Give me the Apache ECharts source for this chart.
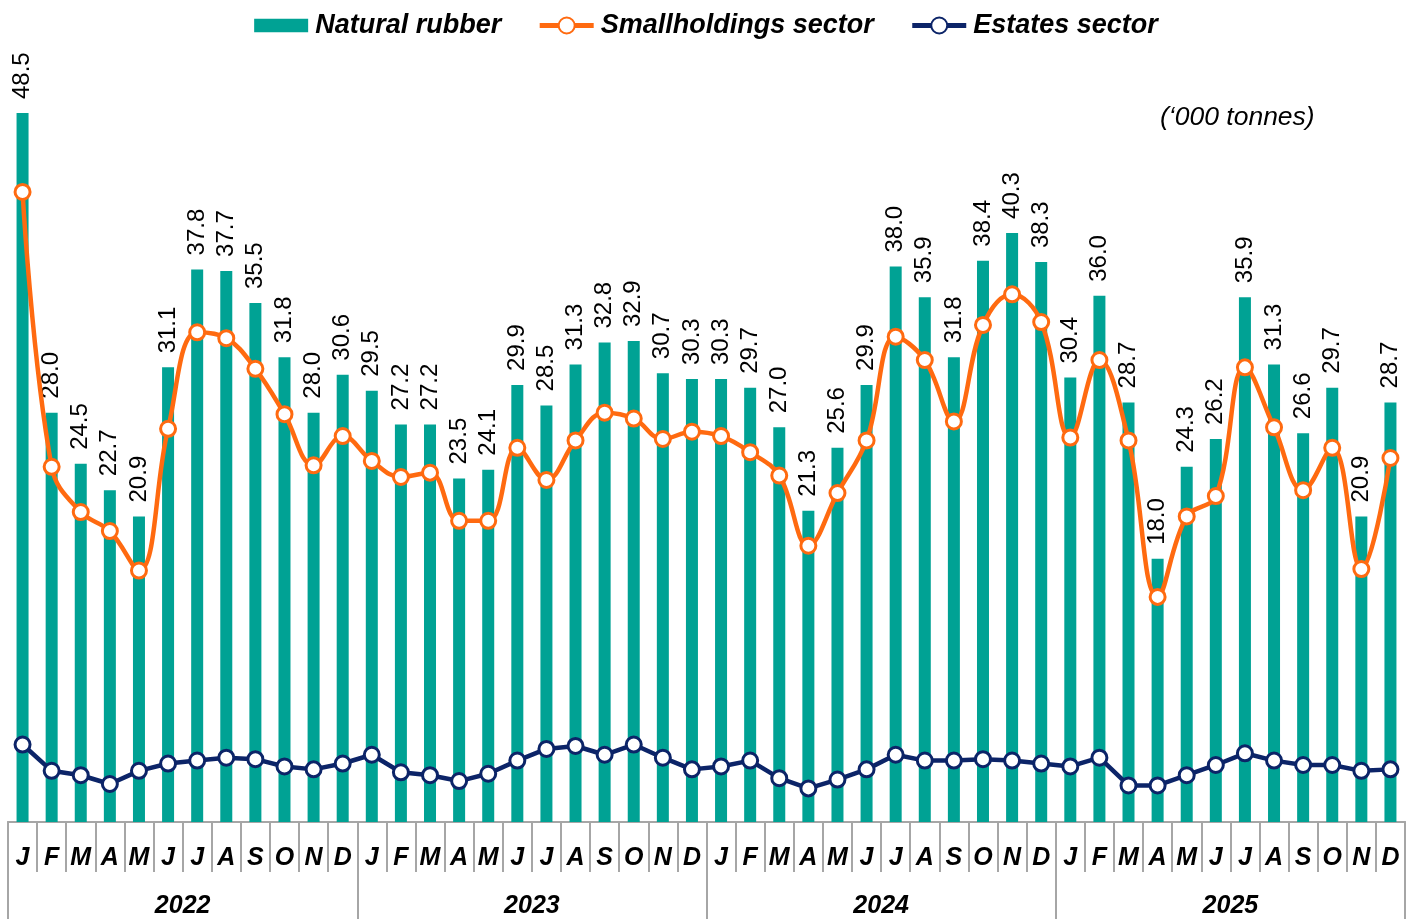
<!DOCTYPE html>
<html>
<head>
<meta charset="utf-8">
<script src="https://cdn.jsdelivr.net/npm/echarts@6/dist/echarts.min.js"></script>
<style>
html,body{margin:0;padding:0;background:#fff;}
#chart{width:1412px;height:919px;}
</style>
</head>
<body>
<div id="chart"></div>
<script>
const months = ['J','F','M','A','M','J','J','A','S','O','N','D',
                'J','F','M','A','M','J','J','A','S','O','N','D',
                'J','F','M','A','M','J','J','A','S','O','N','D',
                'J','F','M','A','M','J','J','A','S','O','N','D'];
const years = ['2022','2023','2024','2025'];
const naturalRubber = [48.5,28.0,24.5,22.7,20.9,31.1,37.8,37.7,35.5,31.8,28.0,30.6,
                       29.5,27.2,27.2,23.5,24.1,29.9,28.5,31.3,32.8,32.9,30.7,30.3,
                       30.3,29.7,27.0,21.3,25.6,29.9,38.0,35.9,31.8,38.4,40.3,38.3,
                       30.4,36.0,28.7,18.0,24.3,26.2,35.9,31.3,26.6,29.7,20.9,28.7];
const smallholdings = [43.1,24.3,21.2,19.9,17.2,26.9,33.5,33.1,31.0,27.9,24.4,26.4,
                       24.7,23.6,23.9,20.6,20.6,25.6,23.4,26.1,28.0,27.6,26.2,26.7,
                       26.4,25.3,23.7,18.9,22.5,26.1,33.2,31.6,27.4,34.0,36.1,34.2,
                       26.3,31.6,26.1,15.4,20.9,22.3,31.1,27.0,22.7,25.6,17.3,24.9];
const estates = [5.3,3.5,3.2,2.6,3.5,4.0,4.2,4.4,4.3,3.8,3.6,4.0,
                 4.6,3.4,3.2,2.8,3.3,4.2,5.0,5.2,4.6,5.3,4.4,3.6,
                 3.8,4.2,3.0,2.3,2.9,3.6,4.6,4.2,4.2,4.3,4.2,4.0,
                 3.8,4.4,2.5,2.5,3.2,3.9,4.7,4.2,3.9,3.9,3.5,3.6];
const unitNote = '(\u2018000 tonnes)';

const FONT = '"Liberation Sans", Arial, sans-serif';
const TEAL = '#00A294';
const ORANGE = '#FF6A10';
const NAVY = '#0C2468';
const GRAY = '#A6A6A6';

const chart = echarts.init(document.getElementById('chart'));
chart.setOption({
  animation: false,
  textStyle: { fontFamily: FONT },
  legend: {
    top: 7,
    left: 'center',
    itemWidth: 54,
    itemHeight: 20,
    itemGap: 36,
    lineStyle: { width: 5 },
    textStyle: { fontFamily: FONT, fontSize: 27, fontWeight: 'bold', fontStyle: 'italic', color: '#000', padding: [0, 0, 0, 2] },
    data: [
      { name: 'Natural rubber', icon: 'path://M0,0 L52,0 L52,13 L0,13 Z' },
      { name: 'Smallholdings sector' },
      { name: 'Estates sector' }
    ]
  },
  graphic: [{
    type: 'text',
    left: 1160,
    top: 104,
    style: { text: unitNote, font: 'italic 26.5px ' + FONT, fill: '#000' }
  }],
  grid: { left: 8, right: 7, top: 18, bottom: 96, containLabel: false },
  xAxis: [{
    type: 'category',
    data: months,
    position: 'bottom',
    axisLine: { show: true, lineStyle: { color: GRAY, width: 2 } },
    axisTick: { show: true, interval: 0, length: 50, lineStyle: { color: GRAY, width: 2 } },
    axisLabel: { interval: 0, margin: 24, fontFamily: FONT, fontSize: 25, fontWeight: 'bold', fontStyle: 'italic', color: '#000' }
  }, {
    type: 'category',
    data: years,
    position: 'bottom',
    axisLine: { show: true, lineStyle: { color: GRAY, width: 2 } },
    axisTick: { show: true, interval: 0, length: 100, lineStyle: { color: GRAY, width: 2 } },
    axisLabel: { interval: 0, margin: 72, fontFamily: FONT, fontSize: 25, fontWeight: 'bold', fontStyle: 'italic', color: '#000' }
  }],
  yAxis: { type: 'value', min: 0, max: 55, show: false, splitLine: { show: false } },
  series: [{
    name: 'Natural rubber',
    type: 'bar',
    data: naturalRubber,
    barWidth: 12,
    itemStyle: { color: TEAL },
    z: 2,
    label: {
      show: true,
      position: 'top',
      rotate: 90,
      align: 'left',
      verticalAlign: 'middle',
      distance: 14,
      fontFamily: FONT,
      fontSize: 24,
      color: '#000',
      formatter: p => p.value.toFixed(1)
    }
  }, {
    name: 'Smallholdings sector',
    type: 'line',
    data: smallholdings,
    smooth: 0.4,
    z: 5,
    symbol: 'circle',
    symbolSize: 15,
    lineStyle: { color: ORANGE, width: 4.5 },
    itemStyle: { color: '#fff', borderColor: ORANGE, borderWidth: 3 }
  }, {
    name: 'Estates sector',
    type: 'line',
    data: estates,
    z: 5,
    symbol: 'circle',
    symbolSize: 15,
    lineStyle: { color: NAVY, width: 4.5 },
    itemStyle: { color: '#fff', borderColor: NAVY, borderWidth: 3 }
  }]
});
</script>
</body>
</html>
